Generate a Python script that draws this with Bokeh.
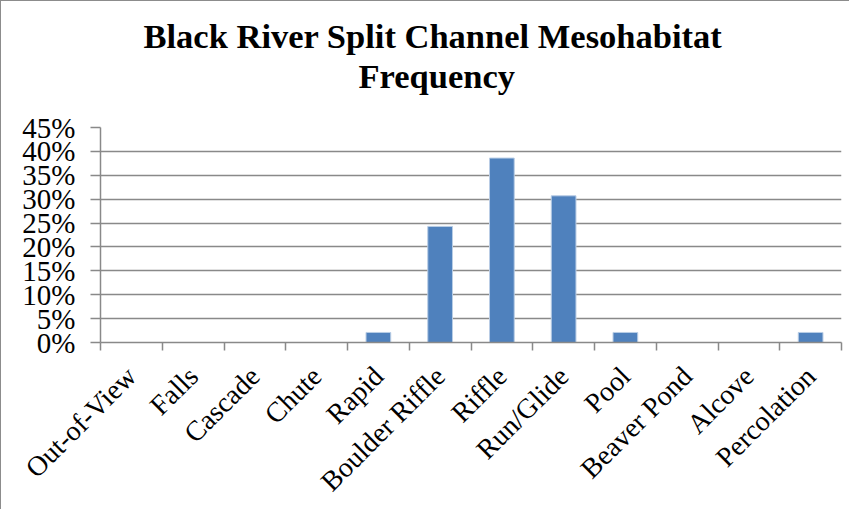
import math
from bokeh.plotting import figure
from bokeh.models import (ColumnDataSource, FixedTicker, NumeralTickFormatter, Title)
from bokeh.embed import file_html
from bokeh.resources import INLINE

# ---- data ----
categories = ["Out-of-View", "Falls", "Cascade", "Chute", "Rapid", "Boulder Riffle",
              "Riffle", "Run/Glide", "Pool", "Beaver Pond", "Alcove", "Percolation"]
frequency = [0.0, 0.0, 0.0, 0.0, 0.021, 0.243, 0.386, 0.307, 0.021, 0.0, 0.0, 0.021]
y_ticks = [0.0, 0.05, 0.10, 0.15, 0.20, 0.25, 0.30, 0.35, 0.40, 0.45]
title_line1 = "Black River Split Channel Mesohabitat"
title_line2 = "Frequency"

positions = [i + 0.5 for i in range(len(categories))]
source = ColumnDataSource(dict(x=positions, top=frequency, name=categories))

FONT = "Liberation Serif"
GRID = "#898989"

p = figure(width=849, height=509, output_backend="svg", toolbar_location=None,
           x_range=(0, len(categories)), y_range=(0, 0.45),
           min_border_left=99, min_border_right=9, min_border_top=126,
           min_border_bottom=165)
p.styles = {"border-left": "1px solid #8c8c8c", "border-top": "1px solid #8c8c8c",
            "box-sizing": "border-box"}
p.outline_line_color = None
p.background_fill_color = "white"
p.border_fill_color = "white"

# spacer between the plot area and the two title lines
t0 = Title(text=" ", text_font_size="10px", standoff=20)
t2 = Title(text=title_line2, align="left", offset=258, text_font=FONT,
           text_font_size="34.5px", text_font_style="bold", text_color="black",
           standoff=0)
t1 = Title(text=title_line1, align="left", offset=43, text_font=FONT,
           text_font_size="34.5px", text_font_style="bold", text_color="black",
           standoff=0)
p.add_layout(t0, "above")
p.add_layout(t2, "above")
p.add_layout(t1, "above")

p.vbar(x="x", top="top", width=0.4, source=source,
       fill_color="#4F81BD", line_color="#b9cde5", line_width=1)

# x axis: labels at category centres, ticks at category boundaries
p.xaxis.ticker = FixedTicker(ticks=positions, minor_ticks=list(range(len(categories) + 1)))
p.xaxis.major_label_overrides = {pos: c for pos, c in zip(positions, categories)}
p.xaxis.major_label_orientation = math.pi / 4
p.xaxis.major_tick_out = 0
p.xaxis.major_tick_in = 0
p.xaxis.minor_tick_out = 8
p.xaxis.minor_tick_in = 0
p.xaxis.minor_tick_line_color = GRID
p.xaxis.minor_tick_line_width = 1.5
p.xaxis.axis_line_color = GRID
p.xaxis.axis_line_width = 1.5
p.xaxis.major_label_text_font = FONT
p.xaxis.major_label_text_font_size = "28px"
p.xaxis.major_label_text_color = "black"
p.xaxis.major_label_standoff = 21

p.yaxis.ticker = FixedTicker(ticks=y_ticks)
p.yaxis.formatter = NumeralTickFormatter(format="0%")
p.yaxis.major_tick_out = 10
p.yaxis.major_tick_in = 0
p.yaxis.minor_tick_out = 0
p.yaxis.minor_tick_in = 0
p.yaxis.major_tick_line_color = GRID
p.yaxis.major_tick_line_width = 1.5
p.yaxis.axis_line_color = GRID
p.yaxis.axis_line_width = 1.5
p.yaxis.major_label_text_font = FONT
p.yaxis.major_label_text_font_size = "29px"
p.yaxis.major_label_text_color = "black"
p.yaxis.major_label_standoff = 15

p.xgrid.grid_line_color = None
p.ygrid.grid_line_color = GRID
p.ygrid.grid_line_width = 1.5

open("out.html", "w").write(file_html(p, INLINE))
